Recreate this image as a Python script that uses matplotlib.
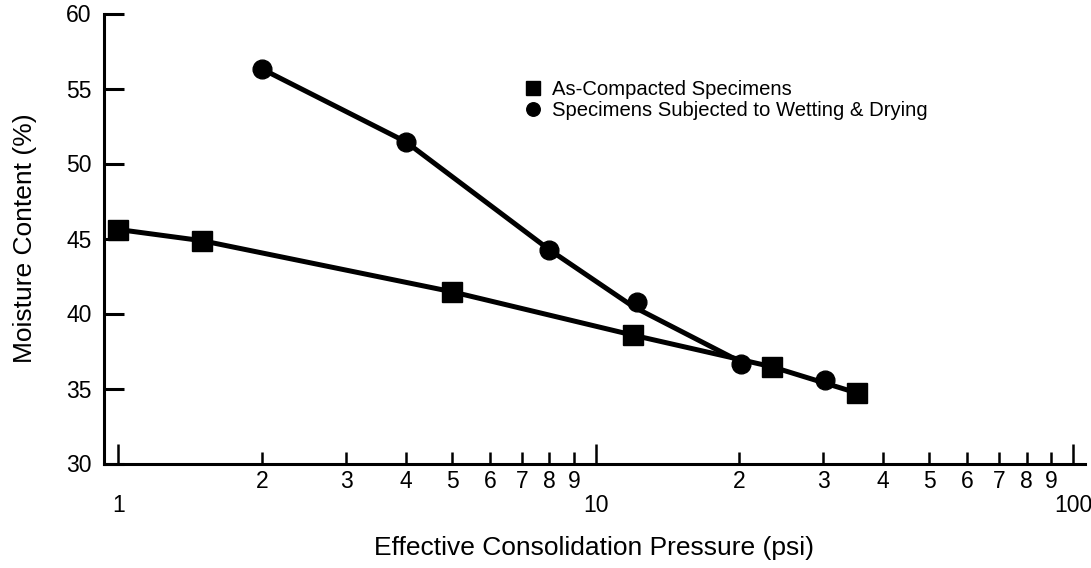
import numpy as np
import matplotlib
matplotlib.use('Agg')
import matplotlib.pyplot as plt

plt.rcParams['font.family'] = ['Liberation Sans', 'DejaVu Sans']

# as-compacted specimens
compacted_psi = [1, 1.5, 5, 12, 23.4, 35.3]
compacted_mc = [45.6, 44.85, 41.45, 38.55, 36.45, 34.7]

# specimens subjected to wetting & drying
wetdry_psi = [2, 4, 8, 12.2, 20.2, 30.2]
wetdry_mc = [56.3, 51.45, 44.25, 40.8, 36.65, 35.55]

# hand-fitted curve for wetting & drying, runs into the compacted curve near 20 psi
wetdry_fit_psi = [2, 4, 8, 12, 19.5]
wetdry_fit_mc = [56.3, 51.45, 44.25, 40.45, 37.0]

major_ticks = [1, 10, 100]
minor_ticks = [2, 3, 4, 5, 6, 7, 8, 9, 20, 30, 40, 50, 60, 70, 80, 90]
y_ticks = [30, 35, 40, 45, 50, 55, 60]

fig = plt.figure(figsize=(10.91, 5.68), dpi=100)
ax = fig.add_axes([104 / 1091, 104.5 / 568, 981 / 1091, 450 / 568])

ax.plot(compacted_psi, compacted_mc, color='black', lw=3.6, solid_capstyle='round', zorder=2)
ax.plot(wetdry_fit_psi, wetdry_fit_mc, color='black', lw=3.6, solid_capstyle='round', zorder=2)
ax.plot(compacted_psi, compacted_mc, ls='none', marker='s', ms=14, color='black',
        label='As-Compacted Specimens', zorder=3)
ax.plot(wetdry_psi, wetdry_mc, ls='none', marker='o', ms=13.5, color='black',
        label='Specimens Subjected to Wetting & Drying', zorder=3)

ax.set_xscale('log')
ax.set_xlim(0.933, 106)
ax.set_ylim(30, 60)

ax.set_xticks(major_ticks)
ax.set_xticklabels([str(t) for t in major_ticks])
ax.set_xticks(minor_ticks, minor=True)
ax.set_xticklabels([str(t)[0] for t in minor_ticks], minor=True)
ax.set_yticks(y_ticks)

for side in ['top', 'right']:
    ax.spines[side].set_visible(False)
for side in ['left', 'bottom']:
    ax.spines[side].set_linewidth(2.2)

ax.tick_params(axis='y', direction='in', length=14.4, width=2.2, pad=9, labelsize=16.5)
ax.tick_params(axis='x', which='major', direction='in', length=14.4, width=1.8, pad=22, labelsize=16.5)
ax.tick_params(axis='x', which='minor', direction='in', length=8.6, width=1.8, pad=4.5, labelsize=16.5)

ax.set_xlabel('Effective Consolidation Pressure (psi)', fontsize=19)
ax.xaxis.set_label_coords(0.5, -0.16)
ax.set_ylabel('Moisture Content (%)', fontsize=19)
ax.yaxis.set_label_coords(-0.068, 0.5)

ax.legend(loc='upper left', bbox_to_anchor=(0.427, 0.852), frameon=False, fontsize=14.6,
          markerscale=0.72, handlelength=1.0, handletextpad=0.42, borderpad=0,
          borderaxespad=0, labelspacing=0.08)

fig.savefig('out.png', dpi=100)
